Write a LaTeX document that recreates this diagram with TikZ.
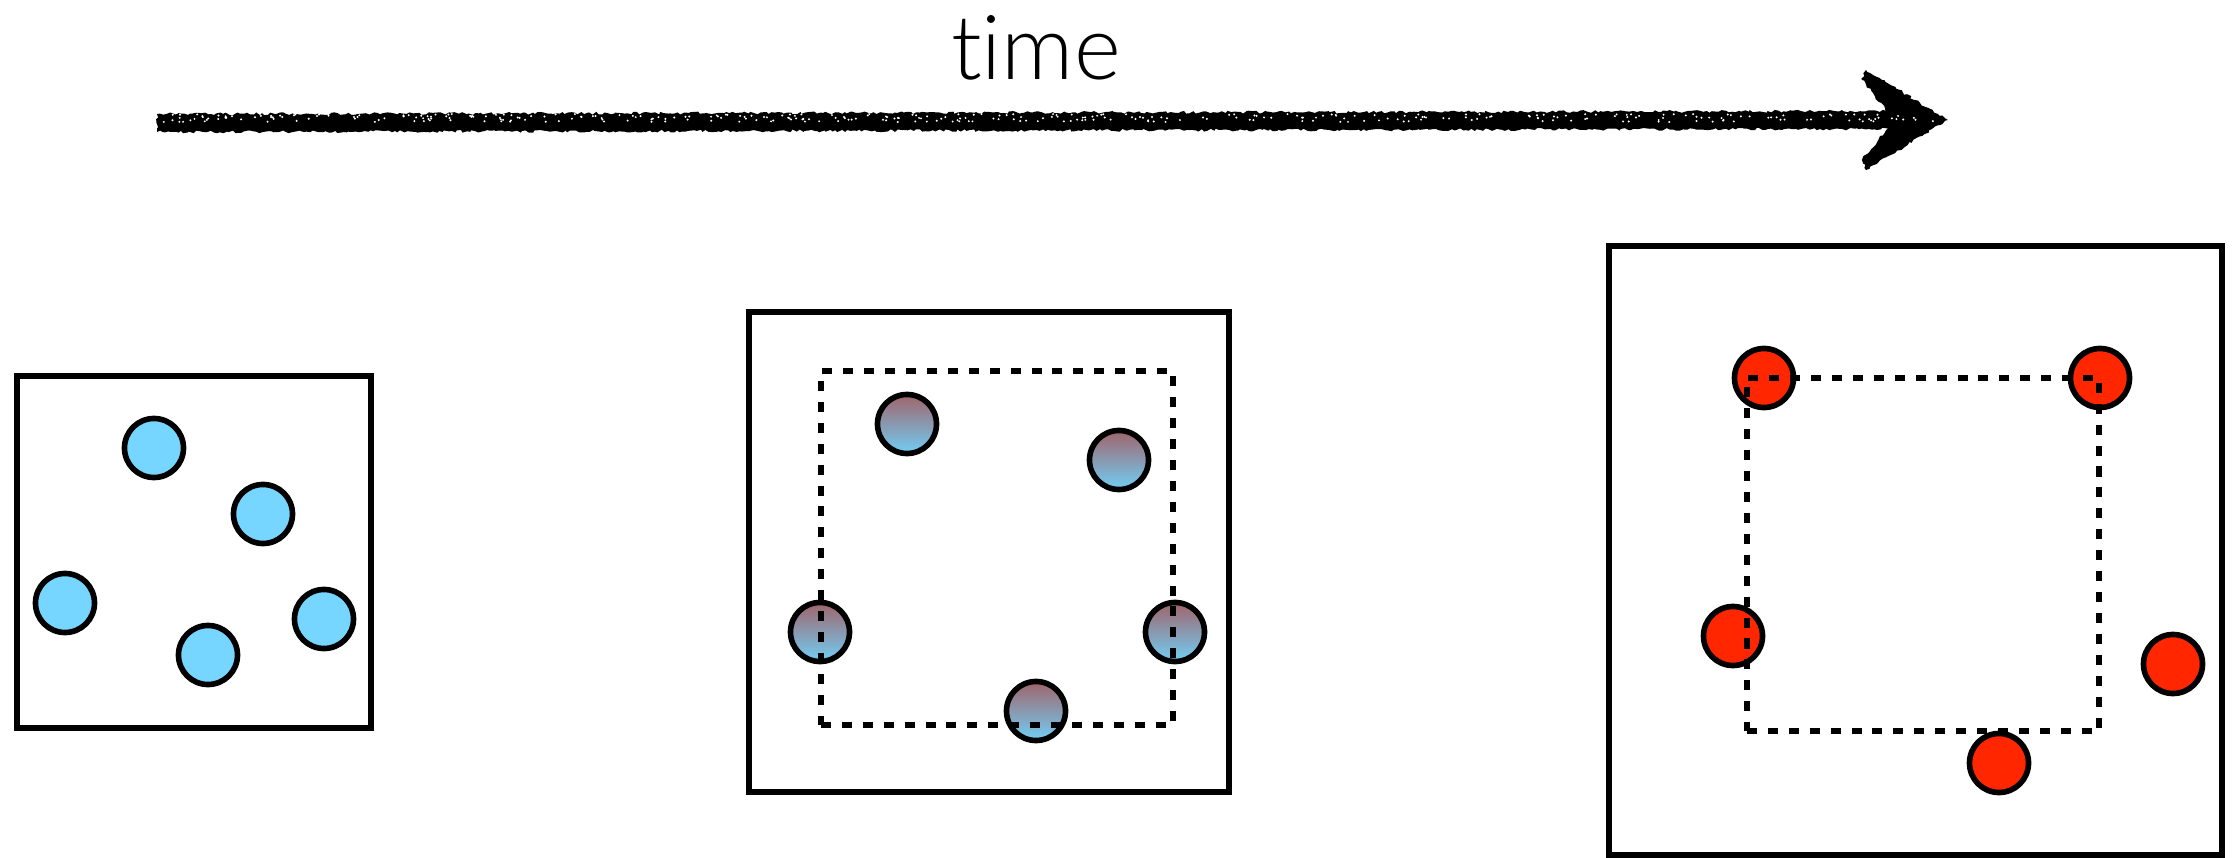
\documentclass[tikz,border=0pt]{standalone}
\usepackage{fontspec}
\setmainfont{Lato}[UprightFont=* Light,Ligatures=NoCommon]
\usepackage{tikz}
\usetikzlibrary{decorations.pathmorphing}
\definecolor{ccold}{RGB}{118,214,255}
\definecolor{chot}{RGB}{255,38,0}
\definecolor{cmixtop}{RGB}{160,100,106}
\definecolor{cmixbot}{RGB}{114,206,246}
\pgfmathsetseed{7}

\begin{document}
\begin{tikzpicture}[x=0.01cm,y=-0.01cm,
frame/.style={draw,line width=1.6pt,inner sep=0pt},
guide/.style={draw,line width=1.7pt,dash pattern=on 2.85pt off 3.1pt,inner sep=0pt,minimum width=3.52cm,minimum height=3.53cm},
dot/.style={circle,draw,line width=1.6pt,inner sep=0pt,minimum size=0.59cm},
cold/.style={dot,fill=ccold},
mixed/.style={dot,top color=cmixtop,bottom color=cmixbot},
hot/.style={dot,fill=chot},
brush/.style={fill=black,decorate,decoration={random steps,segment length=0.03cm,amplitude=0.014cm}}]
\useasboundingbox (0,0) rectangle (2239,858);

% time arrow, rough brush stroke
\node[font=\fontsize{25.5pt}{30pt}\selectfont,anchor=base] (lbl) at (1036,80) {time};
\coordinate (tail) at (157,123);
\coordinate (tip) at (1948,120);
\fill[brush] ([yshift=0.09cm]tail) -- ([xshift=-0.5cm,yshift=0.09cm]tip) -- ([xshift=-0.5cm,yshift=-0.09cm]tip) -- ([yshift=-0.09cm]tail) -- cycle;
\fill[brush] (tip) -- ([xshift=-0.82cm,yshift=0.5cm]tip) -- ([xshift=-0.86cm,yshift=0.4cm]tip) -- ([xshift=-0.6cm,yshift=0.08cm]tip)
  -- ([xshift=-0.6cm,yshift=-0.08cm]tip) -- ([xshift=-0.86cm,yshift=-0.4cm]tip) -- ([xshift=-0.82cm,yshift=-0.5cm]tip) -- cycle;
% grain
\foreach \k in {1,...,350}{
  \pgfmathsetmacro{\gx}{160+1780*rnd}
  \pgfmathsetmacro{\gy}{114+8*rnd}
  \fill[white] (\gx,\gy) circle (0.011cm);
}

% early: scattered
\node[frame,minimum width=3.54cm,minimum height=3.52cm] (f1) at (194,552) {};
\node[cold] (a1) at (154,448) {};
\node[cold] (a2) at (263,514) {};
\node[cold] (a3) at (65,603) {};
\node[cold] (a4) at (208,655) {};
\node[cold] (a5) at (324,619) {};

% middle: settling onto the square
\node[frame,minimum width=4.8cm,minimum height=4.8cm] (f2) at (989,552) {};
\node[mixed] (b1) at (907,424) {};
\node[mixed] (b2) at (1119,460) {};
\node[mixed] (b3) at (820,632) {};
\node[mixed] (b4) at (1175,632) {};
\node[mixed] (b5) at (1036,711) {};
\node[guide] (g2) at (997,548) {};

% late: on the corners
\node[frame,minimum width=6.13cm,minimum height=6.09cm] (f3) at (1915.5,550.5) {};
\node[hot] (c1) at (1764,378) {};
\node[hot] (c2) at (2100,378) {};
\node[hot] (c3) at (1733,636) {};
\node[hot] (c4) at (2173,664) {};
\node[hot] (c5) at (1999,763) {};
\node[guide] (g3) at (1923,554.5) {};
\end{tikzpicture}
\end{document}
